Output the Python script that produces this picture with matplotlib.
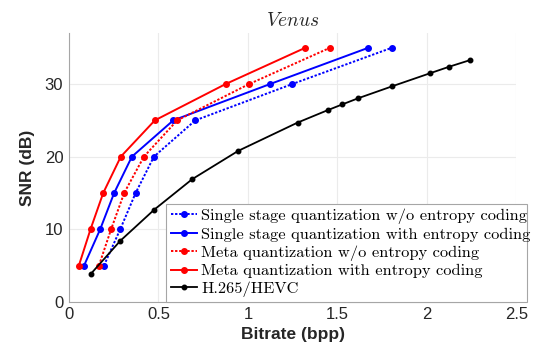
import matplotlib
matplotlib.use('Agg')
import matplotlib.pyplot as plt

# SNR targets used by the quantization curves
snr_levels = [5, 10, 15, 20, 25, 30, 35]

# bitrate (bpp) for each curve
single_noent_bpp = [0.196, 0.287, 0.373, 0.475, 0.706, 1.247, 1.803]
single_ent_bpp = [0.085, 0.175, 0.253, 0.352, 0.583, 1.123, 1.672]
meta_noent_bpp = [0.168, 0.236, 0.309, 0.419, 0.605, 1.006, 1.458]
meta_ent_bpp = [0.056, 0.121, 0.192, 0.290, 0.480, 0.875, 1.320]

hevc_bpp = [0.121, 0.287, 0.477, 0.689, 0.946, 1.278, 1.445, 1.527, 1.616, 1.806, 2.018, 2.125, 2.240]
hevc_snr = [3.8, 8.4, 12.7, 16.9, 20.8, 24.7, 26.4, 27.2, 28.05, 29.7, 31.5, 32.4, 33.3]

labels = ['Single stage quantization w/o entropy coding',
          'Single stage quantization with entropy coding',
          'Meta quantization w/o entropy coding',
          'Meta quantization with entropy coding',
          'H.265/HEVC']

plt.rcParams['mathtext.fontset'] = 'cm'
plt.rcParams['font.family'] = ['Liberation Sans', 'DejaVu Sans']

fig = plt.figure(figsize=(5.38, 3.58), dpi=100)
ax = fig.add_axes([0.128, 0.157, 0.832, 0.750])

dots = (0, (1.2, 0.9))
ax.plot(single_noent_bpp, snr_levels, linestyle=dots, color='blue', lw=1.4, marker='.', ms=8, label=labels[0])
ax.plot(single_ent_bpp, snr_levels, '-', color='blue', lw=1.4, marker='.', ms=8, label=labels[1])
ax.plot(meta_noent_bpp, snr_levels, linestyle=dots, color='red', lw=1.4, marker='.', ms=8, label=labels[2])
ax.plot(meta_ent_bpp, snr_levels, '-', color='red', lw=1.4, marker='.', ms=8, label=labels[3])
ax.plot(hevc_bpp, hevc_snr, '-', color='black', lw=1.3, marker='.', ms=6.5, label=labels[4])

ax.set_xlim(0, 2.5)
ax.set_ylim(0, 37)
ax.set_xticks([0, 0.5, 1, 1.5, 2, 2.5])
ax.set_xticklabels(['0', '0.5', '1', '1.5', '2', '2.5'])
ax.set_yticks([0, 10, 20, 30])

ax.grid(True, color='#ebebeb', lw=0.8)
ax.set_axisbelow(True)
for side in ['top', 'right']:
    ax.spines[side].set_visible(False)
for side in ['left', 'bottom']:
    ax.spines[side].set_color('#a6a6a6')
    ax.spines[side].set_linewidth(0.8)
ax.tick_params(length=0, labelsize=12, labelcolor='#262626', pad=4)

ax.set_xlabel('Bitrate (bpp)', fontsize=12.5, fontweight='bold', color='#262626', labelpad=3)
ax.set_ylabel('SNR (dB)', fontsize=12.5, fontweight='bold', color='#262626', labelpad=7)
ax.set_title(r'$Venus$', fontsize=14, color='#262626', pad=5)

leg = ax.legend(loc='lower left', bbox_to_anchor=(0.308, 0.156, 0.672, 0.28),
                bbox_transform=fig.transFigure, mode='expand',
                prop={'family': 'cmr10', 'size': 11.8}, fancybox=False, framealpha=1,
                edgecolor='#a6a6a6', borderaxespad=0, handlelength=1.6,
                handletextpad=0.25, labelspacing=0.2, borderpad=0.3)
leg.get_frame().set_linewidth(0.8)

fig.savefig('out.png', dpi=100)
